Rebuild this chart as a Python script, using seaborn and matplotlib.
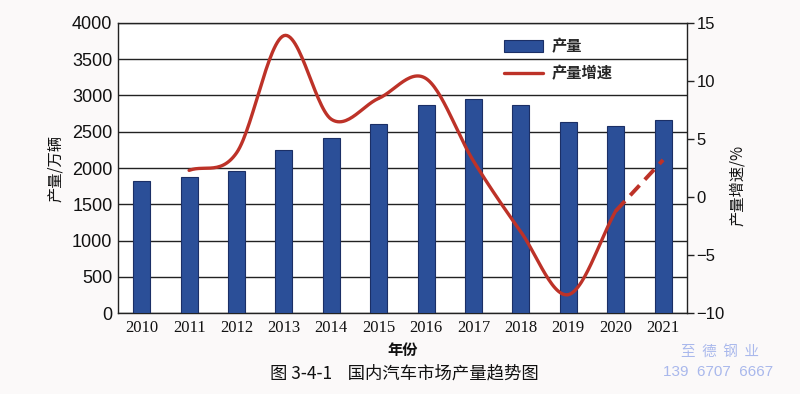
import numpy as np
import pandas as pd
import matplotlib
matplotlib.use("Agg")
import matplotlib.pyplot as plt
import seaborn as sns
from matplotlib.lines import Line2D
from matplotlib.patches import Patch

years = ["2010", "2011", "2012", "2013", "2014", "2015", "2016",
         "2017", "2018", "2019", "2020", "2021"]
production = [1820, 1870, 1955, 2245, 2410, 2605, 2865, 2945, 2865, 2635, 2585, 2655]
growth_years = ["2011", "2012", "2013", "2014", "2015", "2016", "2017",
                "2018", "2019", "2020", "2021"]
growth = [2.3, 3.8, 13.9, 6.7, 8.5, 10.2, 3.1, -3.0, -8.4, -1.2, 3.2]

sns.set_theme(style="white")
plt.rcParams['font.family'] = ['Noto Sans CJK SC', 'DejaVu Sans']
plt.rcParams['axes.unicode_minus'] = True

bar_color = "#2b4f98"
edge_color = "#1b2f66"
red = "#bd3228"

fig = plt.figure(figsize=(8, 3.94), dpi=100)
fig.patch.set_facecolor("#fbf9f9")
ax = fig.add_axes([0.1475, 0.205, 0.711, 0.737])
ax.set_facecolor("white")

df = pd.DataFrame({"year": years, "prod": production})
sns.barplot(data=df, x="year", y="prod", ax=ax, color=bar_color,
            width=0.36, edgecolor=edge_color, linewidth=0.8, saturation=1, zorder=3)
ax.set_xlim(-0.5, 11.5)
ax.set_ylim(0, 4000)
ax.set_yticks(np.arange(0, 4001, 500))
ax.yaxis.grid(True, color="#222222", linewidth=1.0, zorder=0)
ax.set_axisbelow(True)
for s in ["left", "bottom", "right", "top"]:
    ax.spines[s].set_visible(True)
    ax.spines[s].set_color("#222222")
    ax.spines[s].set_linewidth(1.0)
ax.tick_params(axis="y", length=0, pad=4)
ax.tick_params(axis="x", length=0, pad=5)
for t in ax.get_yticklabels():
    t.set_fontfamily("Liberation Sans")
    t.set_fontsize(13)
    t.set_color("#111111")
for t in ax.get_xticklabels():
    t.set_fontfamily("Liberation Serif")
    t.set_fontsize(12)
    t.set_color("#111111")
ax.set_xlabel("年份", fontsize=11, fontweight="bold", labelpad=4, color="#111111")
ax.set_ylabel("产量/万辆", fontsize=11, labelpad=6, color="#111111")

# growth line on secondary axis
ax2 = ax.twinx()
ax2.set_ylim(-10, 15)
ax2.set_yticks(np.arange(-10, 16, 5))
pos = np.array([years.index(y) for y in growth_years], dtype=float)
g = np.array(growth, dtype=float)

# smooth (Catmull-Rom) rendering of the solid part 2011-2020
px, py = pos[:-1], g[:-1]
P = np.column_stack([px, py])
P = np.vstack([2 * P[0] - P[1], P, 2 * P[-1] - P[-2]])
xs, ys = [], []
tt = np.linspace(0, 1, 30)
for i in range(1, len(P) - 2):
    p0, p1, p2, p3 = P[i - 1], P[i], P[i + 1], P[i + 2]
    for t in tt:
        c = 0.5 * ((2 * p1) + (-p0 + p2) * t + (2 * p0 - 5 * p1 + 4 * p2 - p3) * t ** 2
                   + (-p0 + 3 * p1 - 3 * p2 + p3) * t ** 3)
        xs.append(c[0]); ys.append(c[1])
ax2.plot(xs, ys, color=red, linewidth=2.4, zorder=5, solid_capstyle="round")
ax2.plot(pos[-2:], g[-2:], color=red, linewidth=2.8, linestyle=(0, (3.5, 2)), zorder=5)

ax2.tick_params(axis="y", direction="out", length=5, width=1, color="#222222", pad=2)
for t in ax2.get_yticklabels():
    t.set_fontfamily("Liberation Sans")
    t.set_fontsize(12)
    t.set_color("#111111")
ax2.set_ylabel("产量增速/%", fontsize=11, rotation=90, color="#111111")
ax2.yaxis.set_label_coords(1.075, 0.44)
ax2.grid(False)
for s in ax2.spines.values():
    s.set_visible(False)

handles = [Patch(facecolor=bar_color, edgecolor=edge_color, linewidth=0.8),
           Line2D([0], [0], color=red, linewidth=2.4)]
leg = ax.legend(handles, ["产量", "产量增速"], loc="upper left",
                bbox_to_anchor=(0.655, 0.995), frameon=False, fontsize=11,
                handlelength=2.5, handleheight=0.8, labelspacing=0.75, handletextpad=0.6)
for t in leg.get_texts():
    t.set_fontweight("bold")
leg.set_zorder(10)

fig.text(0.505, 0.052, "图 3-4-1    国内汽车市场产量趋势图", ha="center", va="center",
         fontsize=12.5, color="#111111")
fig.text(0.9, 0.107, "至  德  钢  业", ha="center", va="center",
         fontsize=10.5, color="#a9b8ec")
fig.text(0.898, 0.055, "139  6707  6667", ha="center", va="center",
         fontsize=11, color="#a9b8ec", family="Liberation Sans")

fig.savefig("out.png", dpi=100, facecolor=fig.get_facecolor())
